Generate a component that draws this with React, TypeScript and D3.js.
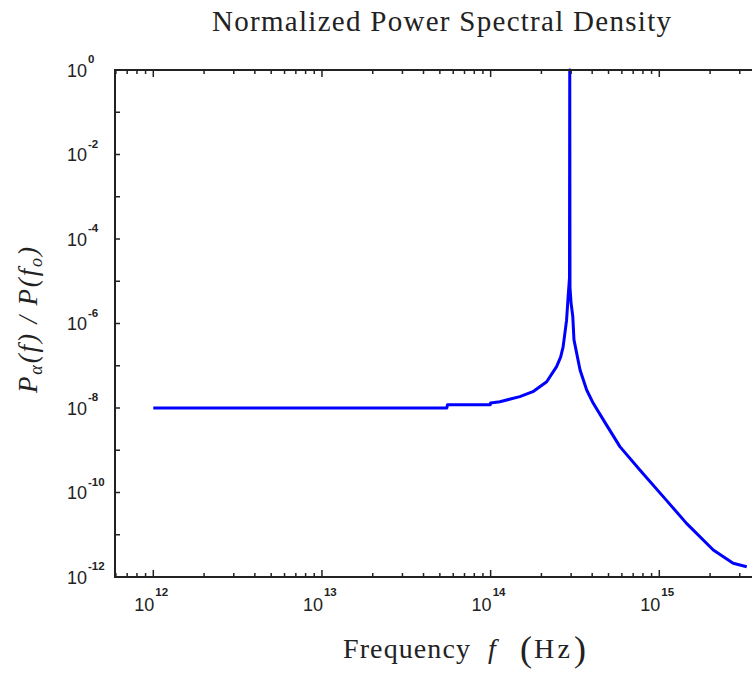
import React from "react";
import * as d3 from "d3";

const title = "Normalized Power Spectral Density";
const xDecades = [12, 13, 14, 15];
const yDecades = [0, -2, -4, -6, -8, -10, -12];

const freq = [
  1e12, 5.5e13, 5.55e13, 9.95e13, 1.0e14, 1.135e14, 1.49e14, 1.78e14, 2.15e14, 2.46e14,
  2.6e14, 2.69e14, 2.82e14, 2.88e14, 2.935e14, 2.945e14, 2.955e14, 3.0e14, 3.07e14, 3.12e14,
  3.39e14, 3.71e14, 4.06e14, 4.65e14, 5.84e14, 7.67e14, 1.1e15, 1.45e15, 2.09e15, 2.74e15, 3.3e15,
];
const psd = [
  1e-8, 1e-8, 1.2e-8, 1.2e-8, 1.32e-8, 1.41e-8, 1.86e-8, 2.43e-8, 4.19e-8, 9.5e-8,
  1.6e-7, 2.8e-7, 1.2e-6, 4.3e-6, 1.2e-5, 1.0, 7e-6, 3e-6, 1.45e-6, 4.1e-7,
  7.9e-8, 2.67e-8, 1.29e-8, 5.3e-9, 1.22e-9, 3.4e-10, 6.6e-11, 1.86e-11, 4.36e-12, 2.11e-12, 1.75e-12,
];

const W = 752;
const H = 673;

export default function App() {
  const x = d3.scaleLog().domain([1e12, 1e15]).range([153.3, 659.3]);
  const y = d3.scaleLog().domain([1e-12, 1]).range([577, 70]);
  const left = 115;
  const right = W;
  const top = y(1);
  const bottom = y(1e-12);
  const xMin = x.invert(left);
  const xMax = x.invert(right + 20);

  const xTicks: { v: number; major: boolean }[] = [];
  for (let e = 11; e <= 16; e++) {
    for (let m = 1; m <= 9; m++) {
      const v = m * Math.pow(10, e);
      if (v >= xMin && v <= xMax) xTicks.push({ v, major: m === 1 });
    }
  }
  const yTicks = d3.range(-12, 1).map((e) => Math.pow(10, e));

  const pts = freq.map((f, i) => [f, psd[i]] as [number, number]);
  const line = d3
    .line<[number, number]>()
    .x((d) => x(d[0]))
    .y((d) => y(d[1]));

  const axisColor = "#222";
  const sans = "'Liberation Sans', Arial, sans-serif";
  const serif = "'Liberation Serif', 'Times New Roman', serif";

  return (
    <svg width={W} height={H} style={{ position: "absolute", left: 0, top: 0, background: "#fff" }}>
      <rect x={0} y={0} width={W} height={H} fill="#fff" />
      <text x={212} y={31} fontFamily={serif} fontSize={29} fill="#222" textLength={459} lengthAdjust="spacing">
        {title}
      </text>

      <defs>
        <clipPath id="plotclip">
          <rect x={left} y={top - 2} width={right - left} height={bottom - top + 2} />
        </clipPath>
      </defs>
      <path d={line(pts) || ""} fill="none" stroke="#0000ff" strokeWidth={3} strokeLinejoin="round" clipPath="url(#plotclip)" />

      <line x1={left} x2={left} y1={top} y2={bottom} stroke={axisColor} strokeWidth={2} />
      <line x1={left - 1} x2={right} y1={bottom} y2={bottom} stroke={axisColor} strokeWidth={2} />
      <line x1={left - 1} x2={right} y1={top} y2={top} stroke={axisColor} strokeWidth={2} />

      {xTicks.map((t, i) => (
        <g key={"xt" + i}>
          <line x1={x(t.v)} x2={x(t.v)} y1={bottom} y2={bottom - (t.major ? 7 : 4)} stroke={axisColor} strokeWidth={1.5} />
          <line x1={x(t.v)} x2={x(t.v)} y1={top} y2={top + (t.major ? 7 : 4)} stroke={axisColor} strokeWidth={1.5} />
        </g>
      ))}
      {yTicks.map((v, i) => (
        <line key={"yt" + i} x1={left} x2={left + 5} y1={y(v)} y2={y(v)} stroke={axisColor} strokeWidth={1.5} />
      ))}

      {xDecades.map((e) => {
        const px = x(Math.pow(10, e));
        return (
          <g key={"xl" + e} fontFamily={sans} fill="#222">
            <text x={px + 1} y={611} fontSize={18} textAnchor="end">10</text>
            <text x={px + 2} y={596} fontSize={11.5} fontWeight="bold">{String(e)}</text>
          </g>
        );
      })}

      {yDecades.map((e) => {
        const py = y(Math.pow(10, e));
        return (
          <g key={"yl" + e} fontFamily={sans} fill="#222">
            <text x={67} y={py + 6.5} fontSize={18}>10</text>
            <text x={88} y={py - 7} fontSize={11.5} fontWeight="bold">{String(e)}</text>
          </g>
        );
      })}

      <g fontFamily={serif} fill="#222">
        <text x={343} y={658} fontSize={28} textLength={127} lengthAdjust="spacing">Frequency</text>
        <text x={488} y={658} fontSize={28} fontStyle="italic">f</text>
        <text x={520} y={661} fontSize={36}>(</text>
        <text x={534} y={658} fontSize={28} textLength={36} lengthAdjust="spacing">Hz</text>
        <text x={574} y={661} fontSize={36}>)</text>
      </g>

      <text
        transform="translate(37,320) rotate(-90)"
        textAnchor="middle"
        fontFamily={serif}
        fontStyle="italic"
        fontSize={27}
        fill="#222"
        textLength={146}
        lengthAdjust="spacing"
      >
        <tspan>P</tspan>
        <tspan fontSize={18} dy={5}>α</tspan>
        <tspan dy={-5}>(f) / P(f</tspan>
        <tspan fontSize={18} dy={5}>o</tspan>
        <tspan dy={-5}>)</tspan>
      </text>
    </svg>
  );
}
